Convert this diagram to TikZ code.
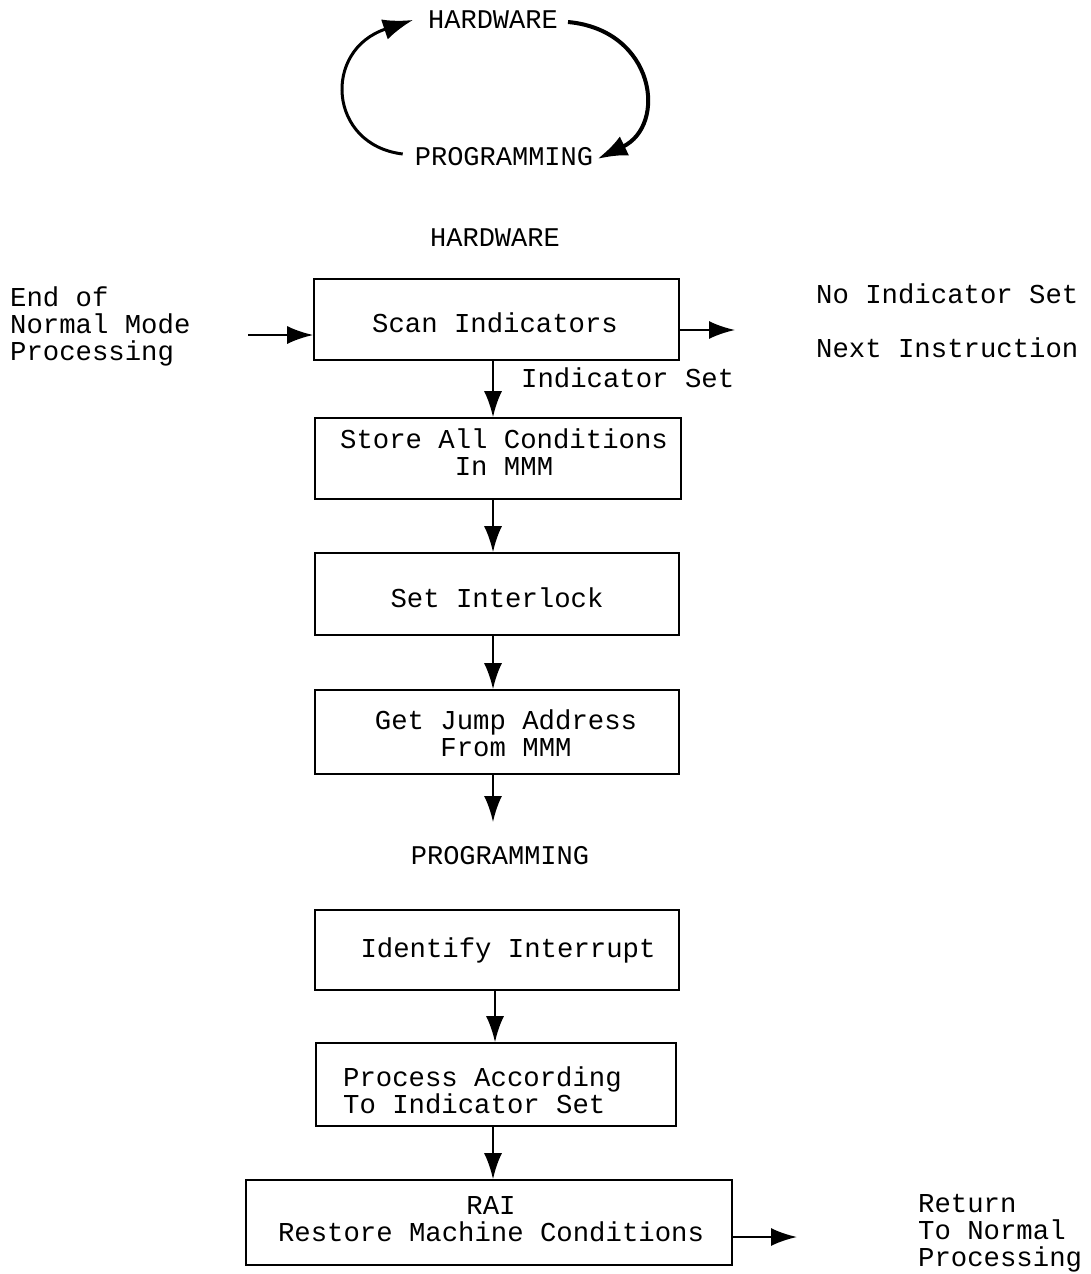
\documentclass[tikz,border=0pt]{standalone}
\usepackage{fontspec}
\setmonofont{Liberation Mono}
\usetikzlibrary{arrows.meta}
\begin{document}
\begin{tikzpicture}[x=1pt,y=-1pt,
  txt/.style={font=\ttfamily\fontsize{27.3}{27}\selectfont, inner sep=0pt, align=center},
  ltxt/.style={font=\ttfamily\fontsize{27.3}{27}\selectfont, inner sep=0pt, align=left, anchor=west},
  head/.style={font=\ttfamily\fontsize{27}{27}\selectfont, inner sep=0pt},
  box/.style={draw, line width=1.6pt, inner sep=0pt},
  arr/.style={line width=2.4pt, -{Latex[length=26pt,width=18pt]}},
  cyc/.style={line width=3pt, -{Latex[length=30pt,width=21pt]}}]
\useasboundingbox (0,0) rectangle (1090,1274);
% top cycle
\node[head] (hw0) at (493,20) {HARDWARE};
\node[head] (pg0) at (504,157) {PROGRAMMING};
\draw[cyc] ([xshift=-12pt,yshift=3pt]pg0.west) .. controls (328,145) and (322,50) .. ([xshift=-15pt]hw0.west);
\draw[cyc, line width=4pt] ([xshift=10pt,yshift=-2pt]hw0.east) .. controls (655,30) and (668,125) .. ([xshift=4pt,yshift=-2pt]pg0.east);
% headings
\node[head] (hw) at (495,238) {HARDWARE};
\node[head] (pg) at (500,856) {PROGRAMMING};
% left input
\node[ltxt] (eom) at (10,326) {End of\\Normal Mode\\Processing};
\coordinate (inS) at (248,335);
% boxes
\node[box, minimum width=365pt, minimum height=81pt] (b1) at (496.5,319.5) {};
\node[txt] at (495,323) {Scan Indicators};
\node[box, minimum width=366pt, minimum height=81pt] (b2) at (498,458.5) {};
\node[txt] at (504,452) {Store All Conditions\\In MMM};
\node[box, minimum width=364pt, minimum height=82pt] (b3) at (497,594) {};
\node[txt] at (497,598) {Set Interlock};
\node[box, minimum width=364pt, minimum height=84pt] (b4) at (497,732) {};
\node[txt] at (506,733) {Get Jump Address\\From MMM};
\node[box, minimum width=364pt, minimum height=80pt] (b5) at (497,950) {};
\node[txt] at (508,950) {Identify Interrupt};
\node[box, minimum width=360pt, minimum height=83pt] (b6) at (496,1084.5) {};
\node[ltxt] at (343,1090) {Process According\\To Indicator Set};
\node[box, minimum width=486pt, minimum height=85pt] (b7) at (489,1222.5) {};
\node[txt] at (491,1219) {RAI\\Restore Machine Conditions};
% right side texts
\node[ltxt] (nis) at (816,294) {No Indicator Set};
\node[ltxt] (ni) at (816,348) {Next Instruction};
\node[ltxt] (iset) at (521,378) {Indicator Set};
\node[ltxt] (ret) at (918,1233) {Return\\To Normal\\Processing};
% connectors
\coordinate (outS) at (735,330);
\coordinate (outP) at (493,822);
\coordinate (outR) at (797,1237);
\draw[arr] (inS) -- (inS -| b1.west);
\draw[arr] (outS -| b1.east) -- (outS);
\draw[arr] (b1.south -| 493,0) -- (b2.north -| 493,0);
\draw[arr] (b2.south -| 493,0) -- (b3.north -| 493,0);
\draw[arr] (b3.south -| 493,0) -- (b4.north -| 493,0);
\draw[arr] (b4.south -| 493,0) -- (outP);
\draw[arr] (b5.south -| 495,0) -- (b6.north -| 495,0);
\draw[arr] (b6.south -| 493,0) -- (b7.north -| 493,0);
\draw[arr] (outR -| b7.east) -- (outR);
\end{tikzpicture}
\end{document}
